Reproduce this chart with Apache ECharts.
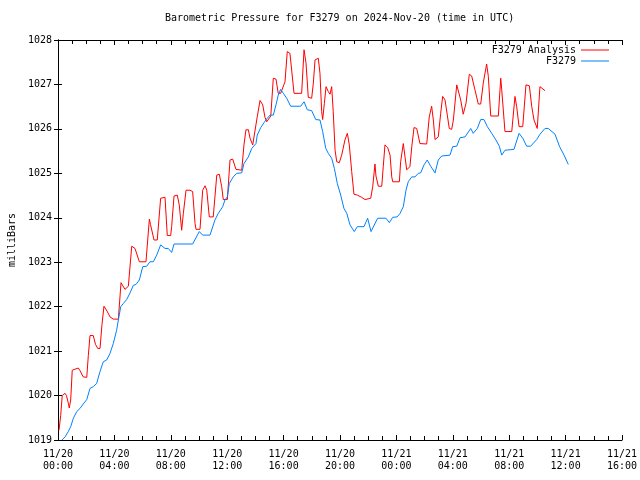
<!DOCTYPE html>
<html>
<head>
<meta charset="utf-8">
<script src="https://cdn.jsdelivr.net/npm/echarts@6/dist/echarts.min.js"></script>
<style>html,body{margin:0;padding:0;background:#fff}#c{width:640px;height:480px}</style>
</head>
<body>
<div id="c"></div>
<script>
// Hours since 2024-11-20 00:00 UTC
const redHours = [0.07,0.19,0.30,0.50,0.60,0.73,0.80,0.90,1.01,1.44,1.56,1.79,2.04,2.15,2.27,2.50,2.66,2.82,2.98,3.12,3.26,3.48,3.69,3.92,4.28,4.47,4.75,4.99,5.23,5.46,5.77,6.24,6.48,6.56,6.81,7.04,7.28,7.59,7.75,7.99,8.06,8.23,8.46,8.60,8.77,8.89,9.08,9.36,9.55,9.72,9.79,10.07,10.26,10.43,10.55,10.73,11.01,11.26,11.44,11.61,11.72,12.01,12.20,12.39,12.62,13.03,13.19,13.33,13.50,13.62,13.81,14.13,14.33,14.52,14.68,14.80,15.09,15.27,15.46,15.62,15.79,16.10,16.26,16.45,16.74,17.28,17.45,17.59,17.75,17.99,18.11,18.23,18.46,18.58,18.70,18.77,18.89,19.01,19.17,19.29,19.41,19.52,19.65,19.77,19.95,20.12,20.35,20.52,20.66,20.83,20.99,21.23,21.54,21.77,22.18,22.32,22.48,22.55,22.72,22.96,23.07,23.19,23.38,23.55,23.67,23.74,24.21,24.30,24.49,24.61,24.73,24.96,25.09,25.25,25.44,25.67,26.15,26.33,26.50,26.62,26.74,26.97,27.14,27.28,27.45,27.61,27.75,27.92,28.04,28.28,28.39,28.56,28.74,28.94,29.17,29.34,29.57,29.81,29.98,30.16,30.40,30.52,30.69,31.23,31.40,31.47,31.70,32.18,32.41,32.53,32.70,32.96,33.19,33.43,33.60,33.76,33.99,34.18,34.30,34.54];
const redValues = [1019.22,1019.55,1020.00,1020.05,1020.00,1019.83,1019.72,1019.90,1020.57,1020.62,1020.56,1020.42,1020.41,1020.90,1021.35,1021.35,1021.15,1021.06,1021.06,1021.60,1022.01,1021.90,1021.77,1021.72,1021.72,1022.54,1022.39,1022.46,1023.36,1023.31,1023.01,1023.01,1023.97,1023.85,1023.50,1023.50,1024.44,1024.46,1023.60,1023.60,1023.80,1024.49,1024.51,1024.29,1023.72,1024.10,1024.62,1024.62,1024.59,1023.87,1023.74,1023.74,1024.62,1024.72,1024.62,1024.02,1024.02,1024.96,1024.98,1024.70,1024.41,1024.41,1025.30,1025.32,1025.09,1025.07,1025.64,1025.98,1025.98,1025.79,1025.64,1026.27,1026.64,1026.54,1026.26,1026.16,1026.29,1027.14,1027.12,1026.80,1026.80,1027.06,1027.74,1027.70,1026.80,1026.80,1027.78,1027.48,1026.71,1026.69,1027.03,1027.55,1027.59,1027.25,1026.39,1026.21,1026.57,1026.95,1026.84,1026.78,1026.95,1026.39,1025.52,1025.26,1025.24,1025.41,1025.75,1025.90,1025.64,1025.04,1024.53,1024.51,1024.46,1024.41,1024.44,1024.70,1025.21,1024.94,1024.71,1024.71,1025.16,1025.64,1025.58,1025.41,1024.92,1024.81,1024.81,1025.26,1025.67,1025.37,1025.08,1025.15,1025.60,1026.03,1026.01,1025.67,1025.66,1026.27,1026.51,1026.20,1025.76,1025.82,1026.35,1026.73,1026.65,1026.31,1026.01,1025.99,1026.20,1026.99,1026.95,1026.65,1026.33,1026.58,1027.23,1027.19,1026.88,1026.56,1026.56,1027.03,1027.46,1027.18,1026.29,1026.29,1027.14,1026.88,1025.94,1025.94,1026.73,1026.50,1026.05,1026.05,1026.99,1026.97,1026.50,1026.20,1026.01,1026.95,1026.95,1026.86];

const blueHours = [0.28,0.33,0.50,0.73,0.90,1.09,1.33,1.56,1.79,2.04,2.27,2.50,2.74,2.98,3.21,3.45,3.69,3.92,4.16,4.28,4.45,4.63,4.87,5.11,5.34,5.53,5.77,6.01,6.29,6.52,6.76,7.00,7.28,7.59,7.82,8.06,8.23,9.55,10.02,10.26,10.78,11.13,11.37,11.68,11.84,12.01,12.15,12.43,12.67,13.03,13.19,13.50,13.74,14.04,14.13,14.38,14.61,14.84,15.04,15.27,15.46,15.62,15.79,15.98,16.22,16.50,17.21,17.45,17.68,17.99,18.28,18.58,18.77,18.99,19.17,19.41,19.60,19.81,20.05,20.28,20.48,20.71,21.01,21.23,21.70,21.96,22.20,22.67,23.26,23.50,23.74,24.06,24.26,24.49,24.68,24.84,25.09,25.32,25.55,25.72,25.96,26.19,26.43,26.74,26.97,27.21,27.80,27.99,28.28,28.51,28.87,29.27,29.45,29.74,29.98,30.21,30.45,30.76,31.06,31.30,31.47,31.70,32.34,32.70,32.96,33.24,33.52,33.95,34.18,34.54,34.77,35.25,35.56,35.89,36.19];
const blueValues = [1019.00,1019.02,1019.07,1019.19,1019.30,1019.49,1019.64,1019.71,1019.81,1019.91,1020.16,1020.20,1020.27,1020.54,1020.76,1020.80,1020.95,1021.17,1021.47,1021.70,1022.00,1022.07,1022.16,1022.31,1022.48,1022.50,1022.60,1022.90,1022.91,1023.01,1023.01,1023.16,1023.39,1023.31,1023.31,1023.22,1023.41,1023.41,1023.69,1023.61,1023.61,1023.95,1024.10,1024.25,1024.40,1024.47,1024.77,1024.92,1025.00,1025.01,1025.22,1025.37,1025.56,1025.67,1025.86,1026.03,1026.14,1026.24,1026.31,1026.31,1026.54,1026.76,1026.89,1026.80,1026.69,1026.51,1026.51,1026.61,1026.43,1026.41,1026.21,1026.20,1025.94,1025.56,1025.45,1025.34,1025.11,1024.77,1024.51,1024.21,1024.10,1023.84,1023.69,1023.80,1023.80,1023.99,1023.69,1023.99,1023.99,1023.89,1024.01,1024.02,1024.10,1024.25,1024.62,1024.81,1024.92,1024.92,1025.00,1025.01,1025.19,1025.30,1025.16,1025.01,1025.30,1025.39,1025.41,1025.60,1025.61,1025.80,1025.82,1026.01,1025.90,1026.01,1026.21,1026.21,1026.05,1025.90,1025.75,1025.61,1025.41,1025.52,1025.54,1025.90,1025.79,1025.61,1025.61,1025.76,1025.88,1026.01,1026.01,1025.88,1025.61,1025.41,1025.20];

const xTickLabels = ['11/20\n00:00','11/20\n04:00','11/20\n08:00','11/20\n12:00','11/20\n16:00','11/20\n20:00','11/21\n00:00','11/21\n04:00','11/21\n08:00','11/21\n12:00','11/21\n16:00'];

const FONT = 'DejaVu Sans Mono';
const RED = '#ff0000';
const BLUE = '#0080ff';
const chart = echarts.init(document.getElementById('c'), null, {renderer: 'canvas'});
const zip = (a, b) => a.map((h, i) => [h, b[i]]);

const tickCommon = {
  axisLine: {show: true, lineStyle: {color: '#000', width: 1}},
  splitLine: {show: false}
};

chart.setOption({
  animation: false,
  backgroundColor: '#fff',
  title: {
    text: 'Barometric Pressure for F3279 on 2024-Nov-20 (time in UTC)',
    left: 165, top: 13, padding: 0,
    textStyle: {fontFamily: FONT, fontSize: 10, fontWeight: 'normal', color: '#000'}
  },
  legend: [
    {data: ['F3279 Analysis'], right: 31, top: 45, padding: 0, align: 'right', icon: 'rect',
     itemWidth: 28, itemHeight: 1, textStyle: {fontFamily: FONT, fontSize: 10, color: '#000'}},
    {data: ['F3279'], right: 31, top: 56, padding: 0, align: 'right', icon: 'rect',
     itemWidth: 28, itemHeight: 1, textStyle: {fontFamily: FONT, fontSize: 10, color: '#000'}}
  ],
  grid: {left: 58, right: 18, top: 40, bottom: 40, containLabel: false, outerBoundsMode: 'none'},
  xAxis: [
    Object.assign({
      type: 'value', min: 0, max: 40, interval: 4, position: 'bottom',
      axisTick: {show: true, inside: true, length: 5, lineStyle: {color: '#000'}},
      minorTick: {show: true, splitNumber: 4, length: 4, lineStyle: {color: '#000'}},
      axisLabel: {show: true, margin: 8, fontFamily: FONT, fontSize: 10, color: '#000', lineHeight: 12.5,
        showMinLabel: true, showMaxLabel: true,
        formatter: v => xTickLabels[Math.round(v / 4)]}
    }, tickCommon),
    Object.assign({
      type: 'value', min: 0, max: 40, interval: 4, position: 'top',
      axisTick: {show: true, inside: true, length: 5, lineStyle: {color: '#000'}},
      minorTick: {show: true, splitNumber: 4, length: 4, lineStyle: {color: '#000'}},
      axisLabel: {show: false}
    }, tickCommon)
  ],
  yAxis: [
    Object.assign({
      type: 'value', min: 1019, max: 1028, interval: 1, position: 'left',
      name: 'milliBars', nameLocation: 'middle', nameGap: 41, nameRotate: 90,
      nameTextStyle: {fontFamily: FONT, fontSize: 10, color: '#000'},
      axisTick: {show: true, inside: true, length: 4, lineStyle: {color: '#000'}},
      axisLabel: {show: true, margin: 6, fontFamily: FONT, fontSize: 10, color: '#000',
        showMinLabel: true, showMaxLabel: true, formatter: v => String(v)}
    }, tickCommon),
    Object.assign({
      type: 'value', min: 1019, max: 1028, interval: 1, position: 'right',
      axisTick: {show: true, inside: true, length: 4, lineStyle: {color: '#000'}},
      axisLabel: {show: false}
    }, tickCommon)
  ],
  series: [
    {name: 'F3279 Analysis', type: 'line', xAxisIndex: 0, yAxisIndex: 0, data: zip(redHours, redValues),
     showSymbol: false, symbol: 'none', lineStyle: {color: RED, width: 1}, itemStyle: {color: RED}},
    {name: 'F3279', type: 'line', xAxisIndex: 0, yAxisIndex: 0, data: zip(blueHours, blueValues),
     showSymbol: false, symbol: 'none', lineStyle: {color: BLUE, width: 1}, itemStyle: {color: BLUE}}
  ]
});
</script>
</body>
</html>
